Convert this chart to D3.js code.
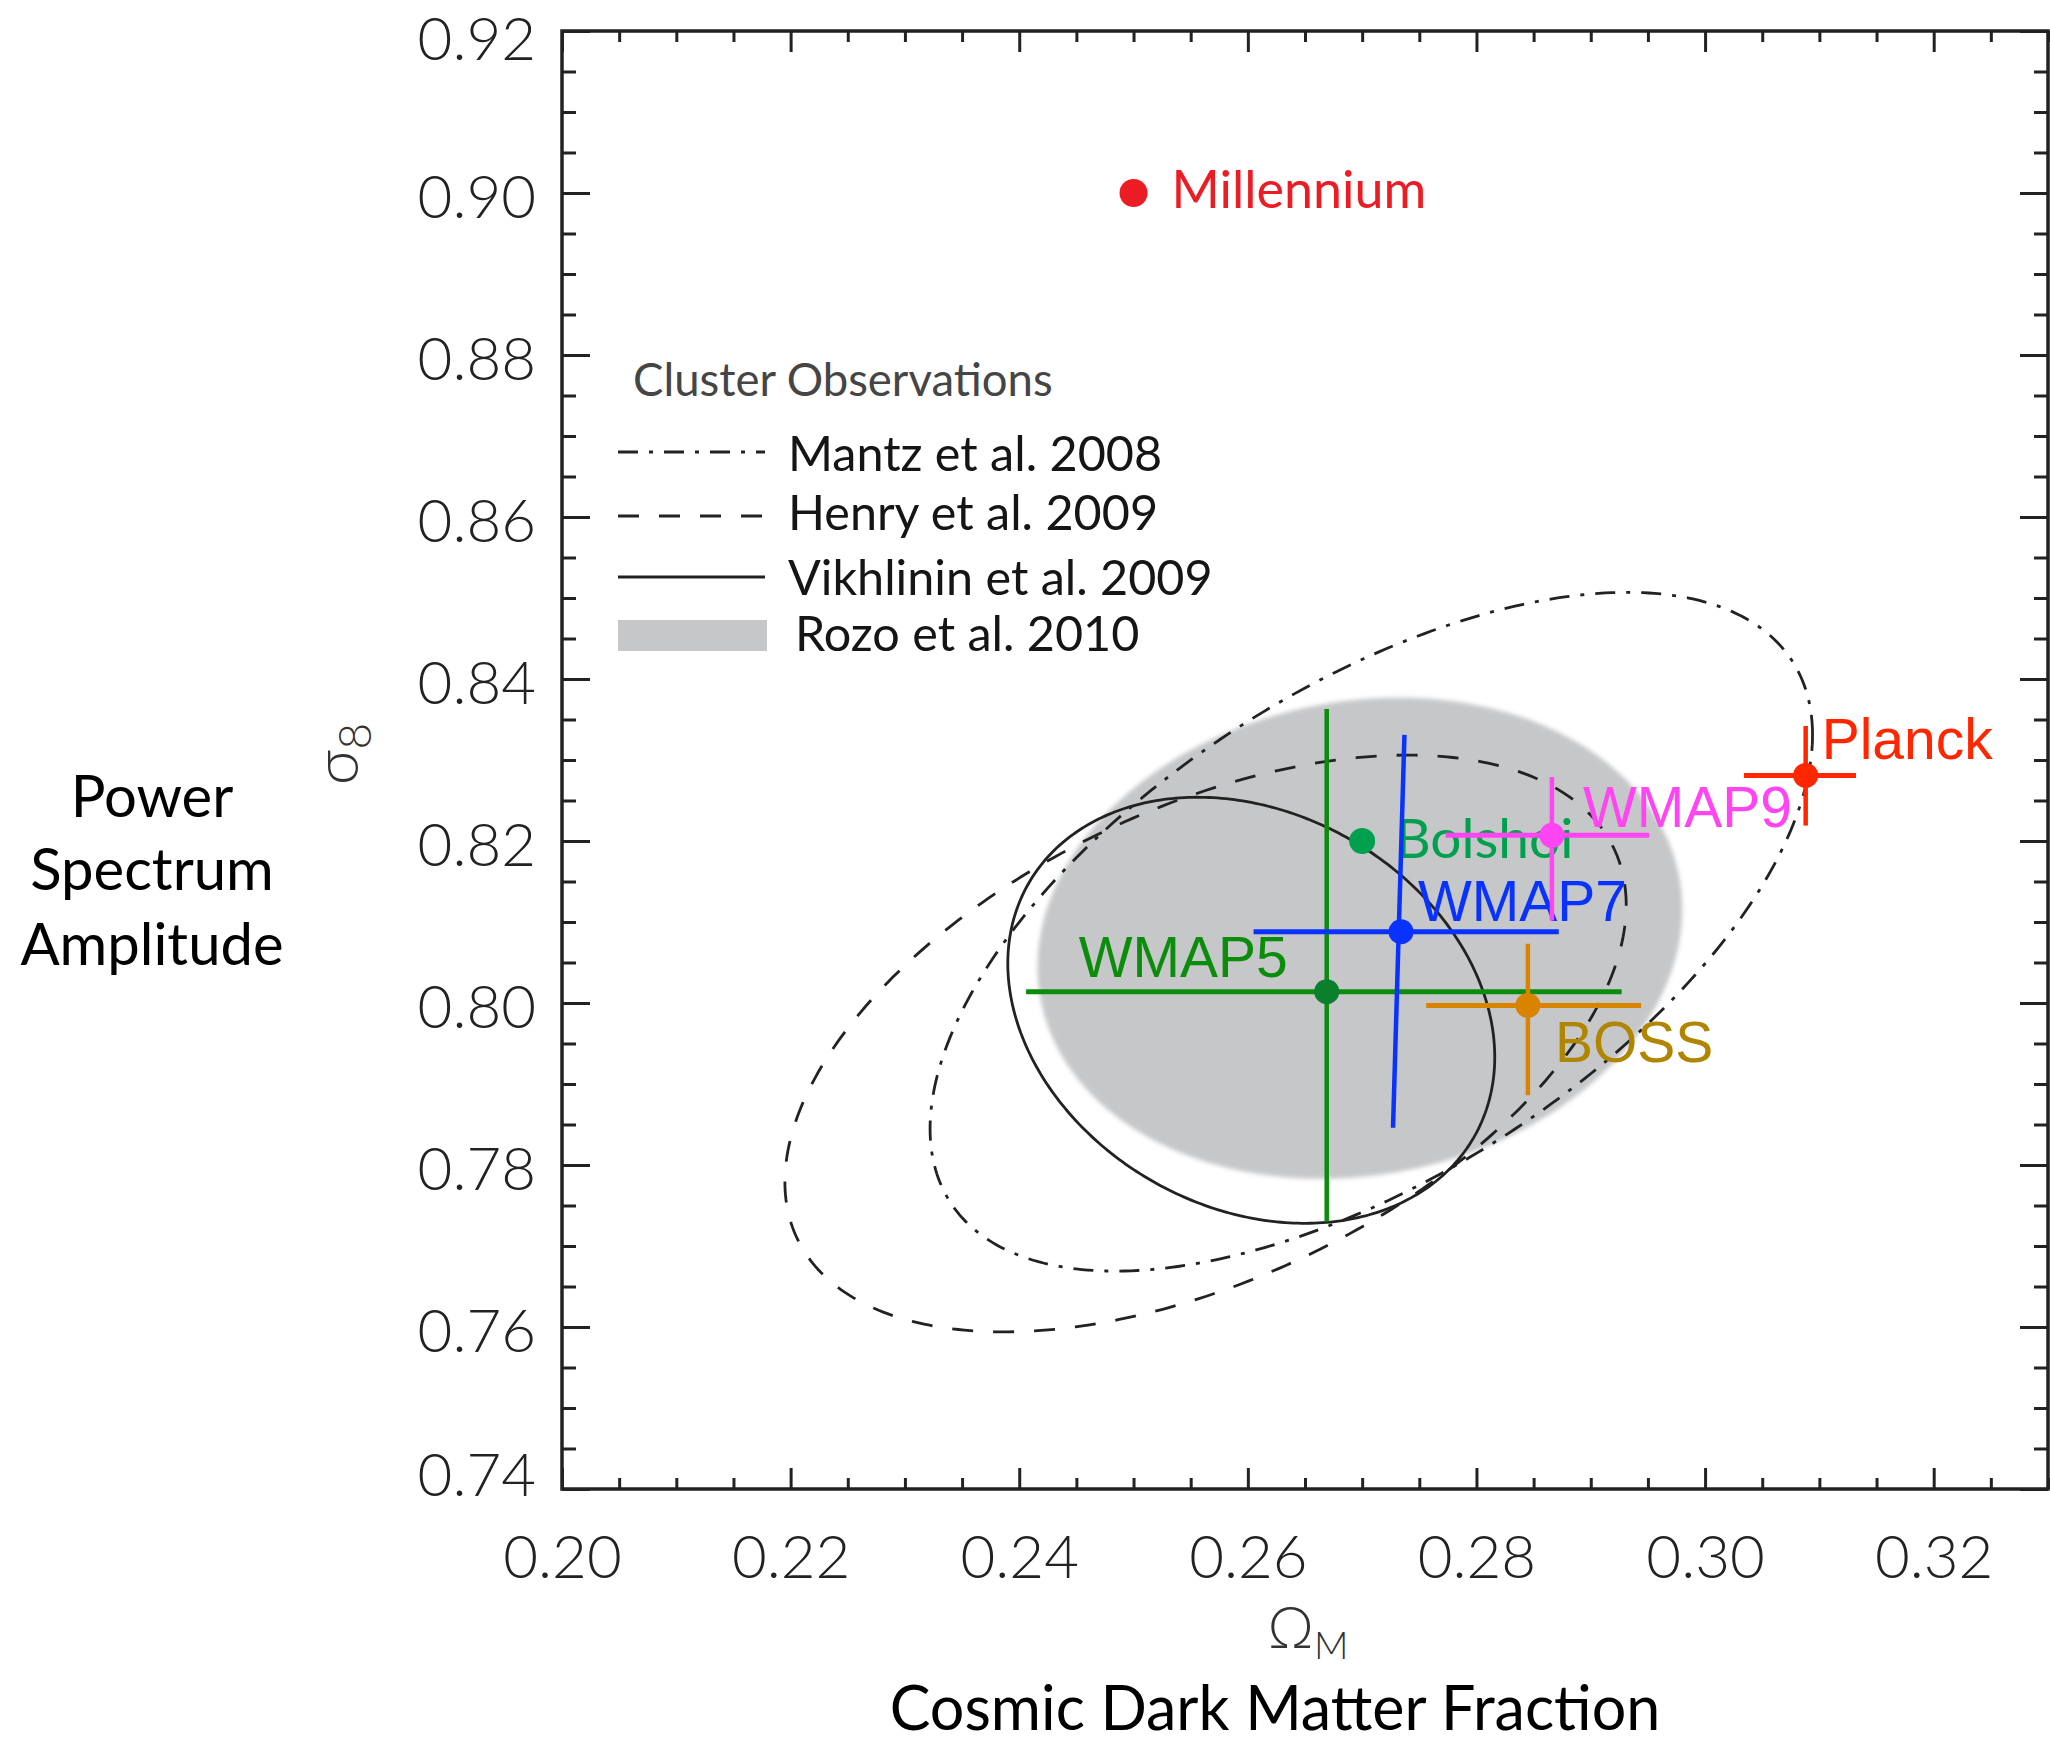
<!DOCTYPE html>
<html><head><meta charset="utf-8">
<script src="https://cdn.jsdelivr.net/npm/d3@7"></script>
<style>
body{margin:0;background:#fff}
svg{display:block}
</style>
</head><body>
<svg id="c" width="2050" height="1745"></svg>
<script>
// ---------------- DATA ----------------
const xTickLabels = ["0.20","0.22","0.24","0.26","0.28","0.30","0.32"];
const yTickLabels = ["0.74","0.76","0.78","0.80","0.82","0.84","0.86","0.88","0.90","0.92"];

// cluster-observation contours (ellipses in data space)
const contourNames   = ["Mantz et al. 2008","Henry et al. 2009","Vikhlinin et al. 2009","Rozo et al. 2010"];
const contourOmegaC  = [0.2708, 0.2563, 0.2603, 0.2698];
const contourSigmaC  = [0.8088, 0.7950, 0.7991, 0.8080];
const contourOmegaR  = [0.0386, 0.0368, 0.0213, 0.0282];
const contourSigmaR  = [0.0419, 0.0356, 0.0263, 0.0297];
const contourCorr    = [0.58, 0.48, -0.22, 0.12];

// CMB / BAO probes with error bars
const probes   = ["WMAP5","WMAP7","BOSS","WMAP9","Planck"];
const omegaM   = [0.2669, 0.2734, 0.2845, 0.2866, 0.3088];
const sigma8   = [0.8014, 0.8088, 0.7997, 0.8207, 0.8281];
const omegaLo  = [0.2406, 0.2605, 0.2756, 0.2773, 0.3034];
const omegaHi  = [0.2927, 0.2872, 0.2944, 0.2951, 0.3132];
const sigmaLo  = [0.7730, 0.7846, 0.7886, 0.8102, 0.8219];
const sigmaHi  = [0.8363, 0.8331, 0.8073, 0.8279, 0.8342];
const vbarOmegaTop = [0.2669, 0.2737, 0.2845, 0.2866, 0.3088];
const vbarOmegaBot = [0.2669, 0.2727, 0.2845, 0.2866, 0.3088];

// simulations
const sims      = ["Millennium","Bolshoi"];
const simOmega  = [0.250, 0.270];
const simSigma  = [0.900, 0.820];

// ---------------- LAYOUT / STYLE ----------------
const W = 2050, H = 1745;
const L = 562, R = 2048, T = 31, B = 1489;
const x = d3.scaleLinear().domain([0.20, 0.33]).range([L, R]);
const y = d3.scaleLinear().domain([0.74, 0.92]).range([B, T]);
const svg = d3.select("#c");

const probeStyle = {
  WMAP5:  {bar:"#0b8c0b", dot:"#0a7f2c", text:"#0b8c0b", anchor:"end",   dx:-39, dy:-15},
  WMAP7:  {bar:"#0a32ff", dot:"#0a32ff", text:"#0a32ff", anchor:"start", dx:17,  dy:-11},
  BOSS:   {bar:"#d98400", dot:"#d98400", text:"#b08500", anchor:"start", dx:27,  dy:57},
  WMAP9:  {bar:"#ff44f2", dot:"#ff44f2", text:"#ff44f2", anchor:"start", dx:31,  dy:-8},
  Planck: {bar:"#ff2600", dot:"#ff2600", text:"#ff2600", anchor:"start", dx:16,  dy:-16}
};
const simStyle = {
  Millennium: {color:"#ec1c24", dx:38, dy:15, r:14, fs:52},
  Bolshoi:    {color:"#00a04e", dx:33, dy:17, r:13, fs:55}
};
const contourStyle = [
  {dash:"20,11,4,11", fill:"none"},
  {dash:"21,20", fill:"none"},
  {dash:null, fill:"none"},
  {dash:null, fill:"#c6c7c9"}
];
const FONT = "Lato, 'Open Sans', sans-serif";

const defs = svg.append("defs");
defs.append("filter").attr("id","soft").attr("x","-10%").attr("y","-10%").attr("width","120%").attr("height","120%")
  .append("feGaussianBlur").attr("stdDeviation",2);
defs.append("clipPath").attr("id","plotclip").append("rect")
  .attr("x",L).attr("y",T).attr("width",R-L).attr("height",B-T);

// ---------------- CONTOURS ----------------
function ellipsePts(i){
  const phi = Math.acos(contourCorr[i]);
  return d3.range(0, 361, 1).map(k => {
    const t = k*Math.PI/180;
    return [contourOmegaC[i] + contourOmegaR[i]*Math.cos(t),
            contourSigmaC[i] + contourSigmaR[i]*Math.cos(t - phi)];
  });
}
const ell = d3.line().x(d=>x(d[0])).y(d=>y(d[1])).curve(d3.curveLinearClosed);
const plot = svg.append("g").attr("clip-path","url(#plotclip)");

plot.append("path").attr("d", ell(ellipsePts(3))).attr("fill", contourStyle[3].fill)
  .attr("filter","url(#soft)");
[2,1,0].forEach(i => {
  plot.append("path").attr("d", ell(ellipsePts(i))).attr("fill","none")
    .attr("stroke","#222").attr("stroke-width",2.8)
    .attr("stroke-dasharray", contourStyle[i].dash);
});

// ---------------- SIMULATIONS ----------------
sims.forEach((s,i) => {
  const st = simStyle[s];
  const cx = x(simOmega[i]), cy = y(simSigma[i]);
  plot.append("circle").attr("cx",cx).attr("cy",cy).attr("r",st.r).attr("fill",st.color);
  plot.append("text").attr("x",cx+st.dx).attr("y",cy+st.dy).text(s)
    .attr("fill",st.color).attr("font-family",FONT).attr("font-size",st.fs);
});

// ---------------- PROBES ----------------
probes.forEach((p,i) => {
  const st = probeStyle[p];
  const g = plot.append("g");
  const cx = x(omegaM[i]), cy = y(sigma8[i]);
  g.append("line").attr("x1",x(omegaLo[i])).attr("x2",x(omegaHi[i]))
    .attr("y1",cy).attr("y2",cy).attr("stroke",st.bar).attr("stroke-width",5);
  g.append("line").attr("x1",x(vbarOmegaTop[i])).attr("x2",x(vbarOmegaBot[i]))
    .attr("y1",y(sigmaHi[i])).attr("y2",y(sigmaLo[i])).attr("stroke",st.bar).attr("stroke-width",4.5);
  g.append("circle").attr("cx",cx).attr("cy",cy).attr("r",12.5).attr("fill",st.dot);
  g.append("text").attr("x",cx+st.dx).attr("y",cy+st.dy).text(p)
    .attr("text-anchor",st.anchor).attr("fill",st.text)
    .attr("font-family","'Liberation Sans', Arial, sans-serif").attr("font-size",57);
});

// ---------------- AXES ----------------
const xMajor = xTickLabels.map(Number);
const yMajor = yTickLabels.map(Number);
const xMinor = d3.range(0, 27).map(k => +(0.20 + k*0.005).toFixed(3)).filter(v => !xMajor.some(m => Math.abs(m-v)<1e-9));
const yMinor = d3.range(0, 37).map(k => +(0.74 + k*0.005).toFixed(3)).filter(v => !yMajor.some(m => Math.abs(m-v)<1e-9));

function styleAxis(g){
  g.select(".domain").remove();
  g.selectAll(".tick line").attr("stroke","#222").attr("stroke-width",3);
  g.selectAll(".tick text").attr("fill","#222")
    .attr("font-family",FONT).attr("font-weight",300).attr("font-size",60);
}
const fx = (d)=> xTickLabels[xMajor.indexOf(d)];
const fy = (d)=> yTickLabels[yMajor.indexOf(d)];

svg.append("g").attr("transform",`translate(0,${B})`)
  .call(d3.axisBottom(x).tickValues(xMajor).tickSize(-21).tickPadding(46).tickFormat(fx)).call(styleAxis);
svg.append("g").attr("transform",`translate(0,${B})`)
  .call(d3.axisBottom(x).tickValues(xMinor).tickSize(-11).tickFormat("")).call(styleAxis);
svg.append("g").attr("transform",`translate(0,${T})`)
  .call(d3.axisTop(x).tickValues(xMajor).tickSize(-21).tickFormat("")).call(styleAxis);
svg.append("g").attr("transform",`translate(0,${T})`)
  .call(d3.axisTop(x).tickValues(xMinor).tickSize(-11).tickFormat("")).call(styleAxis);

const yl = svg.append("g").attr("transform",`translate(${L},0)`)
  .call(d3.axisLeft(y).tickValues(yMajor).tickSize(-28).tickPadding(26).tickFormat(fy)).call(styleAxis);
yl.selectAll(".tick text").attr("dy","0.4em");
yl.selectAll(".tick text").filter(d => d===0.74).attr("dy","0.1em");
yl.selectAll(".tick text").filter(d => d===0.92).attr("dy","0.47em");
svg.append("g").attr("transform",`translate(${L},0)`)
  .call(d3.axisLeft(y).tickValues(yMinor).tickSize(-14).tickFormat("")).call(styleAxis);
svg.append("g").attr("transform",`translate(${R},0)`)
  .call(d3.axisRight(y).tickValues(yMajor).tickSize(-28).tickFormat("")).call(styleAxis);
svg.append("g").attr("transform",`translate(${R},0)`)
  .call(d3.axisRight(y).tickValues(yMinor).tickSize(-14).tickFormat("")).call(styleAxis);

svg.append("rect").attr("x",L).attr("y",T).attr("width",R-L).attr("height",B-T)
  .attr("fill","none").attr("stroke","#222").attr("stroke-width",3.5);

// ---------------- LEGEND ----------------
const leg = svg.append("g").attr("font-family",FONT);
leg.append("text").attr("x",633).attr("y",396).text("Cluster Observations")
  .attr("fill","#454545").attr("font-size",45.5);
const legY = [452, 516, 577, 635];
const legTextY = [471, 530, 595, 651];
const legTextX = [788, 788, 788, 795];
contourNames.forEach((n,i) => {
  if (i < 3) {
    leg.append("line").attr("x1",618).attr("x2",765).attr("y1",legY[i]).attr("y2",legY[i])
      .attr("stroke","#222").attr("stroke-width",3.2).attr("stroke-dasharray",contourStyle[i].dash);
  } else {
    leg.append("rect").attr("x",618).attr("y",legY[i]-15).attr("width",149).attr("height",31)
      .attr("fill",contourStyle[i].fill);
  }
  leg.append("text").attr("x",legTextX[i]).attr("y",legTextY[i]).text(n)
    .attr("fill","#151515").attr("font-size",48.5);
});

// ---------------- AXIS TITLES ----------------
const sig = svg.append("text").attr("transform","translate(358,754) rotate(-90)")
  .attr("text-anchor","middle").attr("fill","#333")
  .attr("font-family",FONT).attr("font-weight",300).attr("font-size",62);
sig.append("tspan").text("σ");
sig.append("tspan").attr("dy",13).attr("font-size",46).text("8");

const om = svg.append("text").attr("x",1308).attr("y",1648)
  .attr("text-anchor","middle").attr("fill","#333")
  .attr("font-family",FONT).attr("font-weight",300).attr("font-size",58);
om.append("tspan").text("Ω");
om.append("tspan").attr("dy",11).attr("font-size",38).text("M");

svg.append("text").attr("x",1275).attr("y",1730).attr("text-anchor","middle")
  .attr("fill","#000").attr("font-family",FONT).attr("font-size",61)
  .text("Cosmic Dark Matter Fraction");

const pwr = ["Power","Spectrum","Amplitude"];
const pwrY = [817, 890, 965];
pwr.forEach((t,i) => svg.append("text").attr("x",152).attr("y",pwrY[i]).attr("text-anchor","middle")
  .attr("fill","#000").attr("font-family",FONT).attr("font-size",58).text(t));
</script>
</body></html>
